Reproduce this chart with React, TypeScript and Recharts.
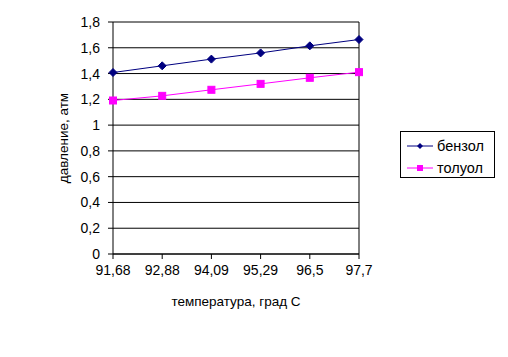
import { CartesianGrid, Label, Legend, Line, LineChart, ReferenceLine, XAxis, YAxis } from 'recharts'

const temps = ['91,68', '92,88', '94,09', '95,29', '96,5', '97,7']
const benzol = [1.408, 1.46, 1.512, 1.56, 1.615, 1.664]
const toluol = [1.191, 1.227, 1.274, 1.32, 1.367, 1.411]
const yTicks = [0, 0.2, 0.4, 0.6, 0.8, 1, 1.2, 1.4, 1.6, 1.8]

const data = temps.map((t, i) => ({ t, benzol: benzol[i], toluol: toluol[i] }))

const FONT = '"Liberation Sans", Arial, sans-serif'
const NAVY = '#000080'
const MAGENTA = '#FF00FF'

const Diamond = ({ cx, cy }: any) => (
  <path d={`M${cx},${cy - 4}L${cx + 4},${cy}L${cx},${cy + 4}L${cx - 4},${cy}Z`} fill={NAVY} stroke={NAVY} />
)
const Square = ({ cx, cy }: any) => (
  <rect x={cx - 3.5} y={cy - 3.5} width={7} height={7} fill={MAGENTA} stroke={MAGENTA} />
)

function LegendBox() {
  const items = [
    { name: 'бензол', color: NAVY, dot: 'diamond' },
    { name: 'толуол', color: MAGENTA, dot: 'square' },
  ]
  return (
    <svg width={95} height={47} style={{ display: 'block' }}>
      <rect x={0.5} y={0.5} width={94} height={46} fill="#fff" stroke="#000" />
      {items.map((it, i) => {
        const y = 15 + i * 22
        return (
          <g key={it.name}>
            <line x1={7} x2={33} y1={y} y2={y} stroke={it.color} />
            {it.dot === 'diamond' ? (
              <path d={`M20,${y - 3}L23,${y}L20,${y + 3}L17,${y}Z`} fill={it.color} />
            ) : (
              <rect x={17} y={y - 3} width={6} height={6} fill={it.color} />
            )}
            <text x={37} y={y + 5} fontSize={14.5} fontFamily={FONT} fill="#000">
              {it.name}
            </text>
          </g>
        )
      })}
    </svg>
  )
}

export default function App() {
  const tick = { fontSize: 14, fill: '#000', fontFamily: FONT }
  return (
    <div style={{ position: 'absolute', left: 0, top: 0, width: 508, height: 357, background: '#fff' }}>
      <LineChart width={508} height={357} data={data} margin={{ top: 22, right: 149, bottom: 0, left: 0 }}>
        <CartesianGrid vertical={false} stroke="#000" strokeWidth={1} />
        <XAxis
          dataKey="t"
          tick={tick}
          tickLine={{ stroke: '#000' }}
          tickSize={5}
          tickMargin={6}
          axisLine={{ stroke: '#000' }}
          interval={0}
          height={56}
        >
          <Label
            content={() => (
              <text x={236} y={306} textAnchor="middle" fontSize={13.5} fontFamily={FONT} fill="#000">
                температура, град С
              </text>
            )}
          />
        </XAxis>
        <YAxis
          width={113}
          domain={[0, 1.8]}
          ticks={yTicks}
          tickFormatter={(v: number) => String(v).replace('.', ',')}
          tick={tick}
          tickLine={{ stroke: '#000' }}
          tickSize={5}
          tickMargin={8}
          axisLine={{ stroke: '#000' }}
          interval={0}
        >
          <Label
            content={() => (
              <text
                x={68}
                y={138}
                transform="rotate(-90 68 138)"
                textAnchor="middle"
                fontSize={13.5}
                fontFamily={FONT}
                fill="#000"
              >
                давление, атм
              </text>
            )}
          />
        </YAxis>
        <ReferenceLine x="97,7" stroke="#000" />
        <Line
          dataKey="benzol"
          name="бензол"
          stroke={NAVY}
          strokeWidth={1}
          dot={<Diamond />}
          isAnimationActive={false}
        />
        <Line
          dataKey="toluol"
          name="толуол"
          stroke={MAGENTA}
          strokeWidth={1}
          dot={<Square />}
          isAnimationActive={false}
        />
        <Legend
          content={() => <LegendBox />}
          wrapperStyle={{ position: 'absolute', left: 400, top: 131, width: 95, height: 47 }}
        />
      </LineChart>
    </div>
  )
}
